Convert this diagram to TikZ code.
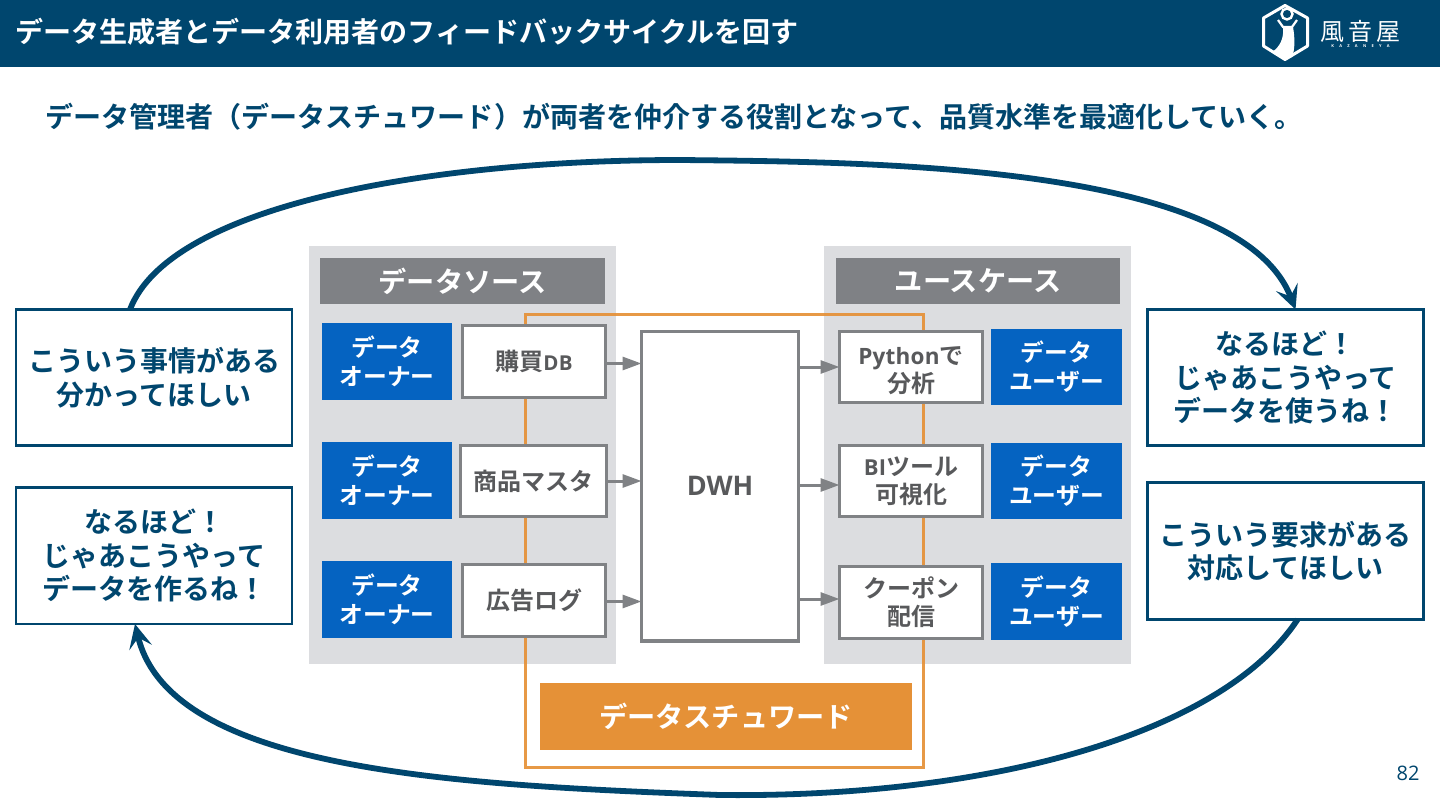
\documentclass[tikz,border=0pt]{standalone}
\usepackage{fontspec}
\usetikzlibrary{arrows.meta}
\setmainfont{Noto Sans CJK JP}[BoldFont={Noto Sans CJK JP Bold}]
\newfontfamily\latinf{Open Sans}[BoldFont={Open Sans Bold}]
\newfontfamily\latinm{Open Sans}[BoldFont={Open Sans Bold},LetterSpace=1]
\definecolor{navy}{HTML}{00466E}
\definecolor{panelc}{HTML}{DCDDE0}
\definecolor{headc}{HTML}{7F8185}
\definecolor{bluec}{HTML}{0563C1}
\definecolor{orangec}{HTML}{E59137}
\definecolor{edgec}{HTML}{808285}
\definecolor{textc}{HTML}{58595B}
\newcommand{\fs}[2]{\fontsize{#1}{#2}\selectfont\bfseries}
\newcommand{\bx}[7]{\node[#2,minimum width={(#5-#3)*1pt},minimum height={(#6-#4)*1pt}] (#1) at ({(#3+#5)/2},{(#4+#6)/2}) {#7};}
\tikzset{
  x=1pt,y=-1pt,
  allbox/.style={inner sep=0pt,outer sep=0pt,align=center},
  panel/.style={allbox,fill=panelc},
  headbox/.style={allbox,fill=headc,text=white,font=\fs{28.2}{32}},
  ownerbox/.style={allbox,fill=bluec,text=white,font=\fs{23.8}{29}},
  itembox/.style={allbox,draw=edgec,line width=3.3pt,fill=white,text=textc,font=\fs{24}{28}},
  dwhbox/.style={allbox,draw=edgec,line width=3.3pt,fill=white,text=textc,font=\latinf\fs{27}{32}},
  talk/.style={allbox,draw=navy,line width=2.8pt,fill=white,text=navy,font=\fs{28}{33.5}},
  stewbox/.style={allbox,fill=orangec,text=white,font=\fs{28.2}{32}},
  flow/.style={draw=edgec,line width=3pt,-{Triangle[length=19pt,width=13pt]}},
  cycle arrow/.style={draw=navy,line width=5.8pt,-{Stealth[length=24pt,width=23pt,inset=10pt]}},
  loopline/.style={draw=orangec,line width=3pt,line join=miter,draw opacity=.92},
}
\begin{document}
\begin{tikzpicture}
\useasboundingbox (0,0) rectangle (1440,810);
\fill[white] (0,0) rectangle (1440,810);
% header
\bx{hdr}{allbox,fill=navy}{0}{0}{1440}{67}{}
\node[anchor=west,inner sep=0pt,text=white,font=\fs{28.05}{32}] (title) at (15,32) {データ生成者とデータ利用者のフィードバックサイクルを回す};
\node[anchor=west,inner sep=0pt,text=navy,font=\fs{28.05}{32}] (sub) at (45,117) {データ管理者（データスチュワード）が両者を仲介する役割となって、品質水準を最適化していく。};
% logo
\draw[white,line width=3pt,line join=round] (1285,5.5) -- (1307.5,18) -- (1307.5,46) -- (1285,59.5) -- (1263.5,46) -- (1263.5,18) -- cycle;
\draw[white,line width=2.4pt] (1287,14) circle (5.5);
\draw[white,line width=2.2pt] (1278,20) -- (1283,27) -- (1292,27) -- (1297,20);
\fill[white] (1283,28) -- (1293,27) .. controls (1295,38) and (1295,50) .. (1292,57) -- (1285,60) -- (1272,52) .. controls (1280,47) and (1284,38) .. cycle;
\node[inner sep=0pt,text=white,font=\fontsize{24}{24}\selectfont] (logotext) at (1360,31) {風\,音\,屋};
\node[inner sep=0pt,text=white,font=\latinf\bfseries\fontsize{4}{5}\selectfont] (logosub) at (1360.5,46) {K\hspace*{5.3pt}A\hspace*{5.3pt}Z\hspace*{5.3pt}A\hspace*{5.3pt}N\hspace*{5.3pt}E\hspace*{5.3pt}Y\hspace*{5.3pt}A};
% panels
\bx{lp}{panel}{309}{246}{616}{664}{}
\bx{rp}{panel}{824}{246}{1131}{664}{}
\bx{lh}{headbox}{320}{258}{605}{304}{データソース}
\bx{rh}{headbox}{836}{258}{1120}{304}{ユースケース}
% steward loop
\coordinate (la) at (525,314);
\coordinate (lb) at (923,314);
\coordinate (lc) at (923,767);
\coordinate (ld) at (525,767);
\draw[loopline] (la) -- (lb) -- (lc) -- (ld) -- cycle;
% owners
\bx{o1}{ownerbox}{322}{323}{452}{400}{データ\\オーナー}
\bx{o2}{ownerbox}{322}{442}{452}{519}{データ\\オーナー}
\bx{o3}{ownerbox}{322}{561}{452}{638}{データ\\オーナー}
% sources
\bx{s1}{itembox}{462.5}{325.5}{605.5}{397.5}{購買{\latinm\fontsize{20.5}{28}\selectfont DB}}
\bx{s2}{itembox}{460.5}{445.5}{606.5}{516.5}{商品マスタ}
\bx{s3}{itembox}{462.5}{564.5}{605.5}{636.5}{広告ログ}
% dwh
\bx{dwh}{dwhbox}{641.5}{331.5}{798.5}{641}{DWH}
% uses
\bx{u1}{itembox}{839.5}{331.5}{982.5}{402.5}{\rule{0pt}{25pt}{\latinm\fontsize{22.5}{28}\selectfont Python}で\\分析}
\bx{u2}{itembox}{839.5}{445.5}{982.5}{516.5}{{\latinm\fontsize{22}{28}\selectfont BI}ツール\\可視化}
\bx{u3}{itembox}{839.5}{566.5}{982.5}{638.5}{クーポン\\配信}
% users
\bx{d1}{ownerbox}{991}{329}{1122}{405}{データ\\ユーザー}
\bx{d2}{ownerbox}{991}{443}{1122}{519}{データ\\ユーザー}
\bx{d3}{ownerbox}{991}{563}{1122}{640}{データ\\ユーザー}
% steward
\bx{st}{stewbox}{540}{683}{912}{750}{データスチュワード}
% talk boxes
\bx{lt1}{talk}{16}{309.5}{292}{445.5}{こういう事情がある\\分かってほしい}
\bx{lt2}{talk}{16}{487.5}{292}{624}{なるほど！\\じゃあこうやって\\データを作るね！}
\bx{rt1}{talk}{1147.5}{309.5}{1423.5}{445.5}{なるほど！\\じゃあこうやって\\データを使うね！}
\bx{rt2}{talk}{1147.5}{482.5}{1423.5}{619.5}{こういう要求がある\\対応してほしい}
% flows
\draw[flow] ([yshift=-2pt]s1.east) -- ([yshift=-2pt]s1.east -| dwh.west);
\draw[flow] (s2.east) -- (s2.east -| dwh.west);
\draw[flow] ([yshift=-1pt]s3.east) -- ([yshift=-1pt]s3.east -| dwh.west);
\draw[flow] (u1.west -| dwh.east) -- (u1.west);
\draw[flow] ([yshift=-4pt]u2.west -| dwh.east) -- ([yshift=-4pt]u2.west);
\draw[flow] ([yshift=3.5pt]u3.west -| dwh.east) -- ([yshift=3.5pt]u3.west);
% cycle arrows
\draw[cycle arrow] ([xshift=-24pt]lt1.north) .. controls (170,205) and (430,160) .. (680,160) .. controls (880,162) and (1240,165) .. ([xshift=10pt]rt1.north);
\draw[cycle arrow] ([xshift=12pt]rt2.south) .. controls (1225,730) and (1000,798) .. (720,795) .. controls (450,785) and (170,770) .. ([xshift=-19pt]lt2.south);
% page no
\node[inner sep=0pt,text=navy,font=\latinf\fontsize{20}{24}\selectfont] (pg) at (1408,773) {82};
\end{tikzpicture}
\end{document}
